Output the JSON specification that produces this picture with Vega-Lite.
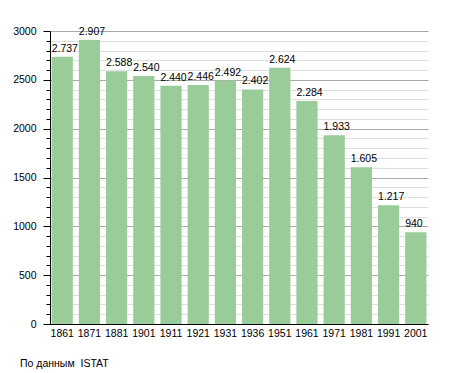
{
  "$schema": "https://vega.github.io/schema/vega-lite/v6.json",
  "width": 378,
  "height": 293,
  "autosize": {"type": "none"},
  "padding": {"left": 50, "top": 31, "right": 27, "bottom": 49},
  "background": "white",
  "config": {
    "locale": {"number": {"decimal": ",", "thousands": ".", "grouping": [3], "currency": ["", ""]}},
    "view": {"stroke": null},
    "font": "Liberation Sans"
  },
  "title": {
    "text": "По данным\u00a0\u00a0ISTAT",
    "orient": "bottom",
    "anchor": "start",
    "frame": "group",
    "dx": -30,
    "offset": 20,
    "fontSize": 10.5,
    "fontWeight": "normal",
    "font": "Liberation Sans",
    "color": "#000"
  },
  "data": {
    "values": [
      {"year": "1861", "pop": 2737},
      {"year": "1871", "pop": 2907},
      {"year": "1881", "pop": 2588},
      {"year": "1901", "pop": 2540},
      {"year": "1911", "pop": 2440},
      {"year": "1921", "pop": 2446},
      {"year": "1931", "pop": 2492},
      {"year": "1936", "pop": 2402},
      {"year": "1951", "pop": 2624},
      {"year": "1961", "pop": 2284},
      {"year": "1971", "pop": 1933},
      {"year": "1981", "pop": 1605},
      {"year": "1991", "pop": 1217},
      {"year": "2001", "pop": 940}
    ]
  },
  "layer": [
    {
      "mark": {"type": "bar", "color": "#99cc99"},
      "encoding": {
        "x": {
          "field": "year", "type": "ordinal", "sort": null,
          "scale": {"paddingInner": 0.22, "paddingOuter": 0.06},
          "axis": {
            "title": null, "labelAngle": 0, "ticks": false, "labelPadding": 4,
            "labelFontSize": 10.5, "labelColor": "#000", "domainColor": "#000", "domainWidth": 1
          }
        },
        "y": {
          "field": "pop", "type": "quantitative",
          "scale": {"domain": [0, 3000], "nice": false},
          "axis": {
            "title": null,
            "values": [0,100,200,300,400,500,600,700,800,900,1000,1100,1200,1300,1400,1500,1600,1700,1800,1900,2000,2100,2200,2300,2400,2500,2600,2700,2800,2900,3000],
            "tickCount": 100,
            "format": "d",
            "labelExpr": "datum.value % 500 == 0 ? datum.label : ''",
            "labelOverlap": false,
            "labelFontSize": 10.5, "labelColor": "#000", "labelPadding": 7,
            "domainColor": "#000", "tickColor": "#000", "tickOpacity": 1,
            "tickSize": {"condition": {"test": "datum.value % 500 == 0", "value": 7}, "value": 4},
            "grid": true,
            "gridOpacity": 1,
            "gridColor": {"condition": {"test": "datum.value % 500 == 0", "value": "#aaaaaa"}, "value": "#e0e0e0"}
          }
        }
      }
    },
    {
      "mark": {"type": "text", "align": "left", "baseline": "alphabetic", "dy": -5, "fontSize": 10.5, "color": "#000"},
      "encoding": {
        "x": {"field": "year", "type": "ordinal", "sort": null, "bandPosition": 0},
        "y": {"field": "pop", "type": "quantitative"},
        "text": {"field": "pop", "type": "quantitative", "format": ",d"}
      }
    }
  ]
}
